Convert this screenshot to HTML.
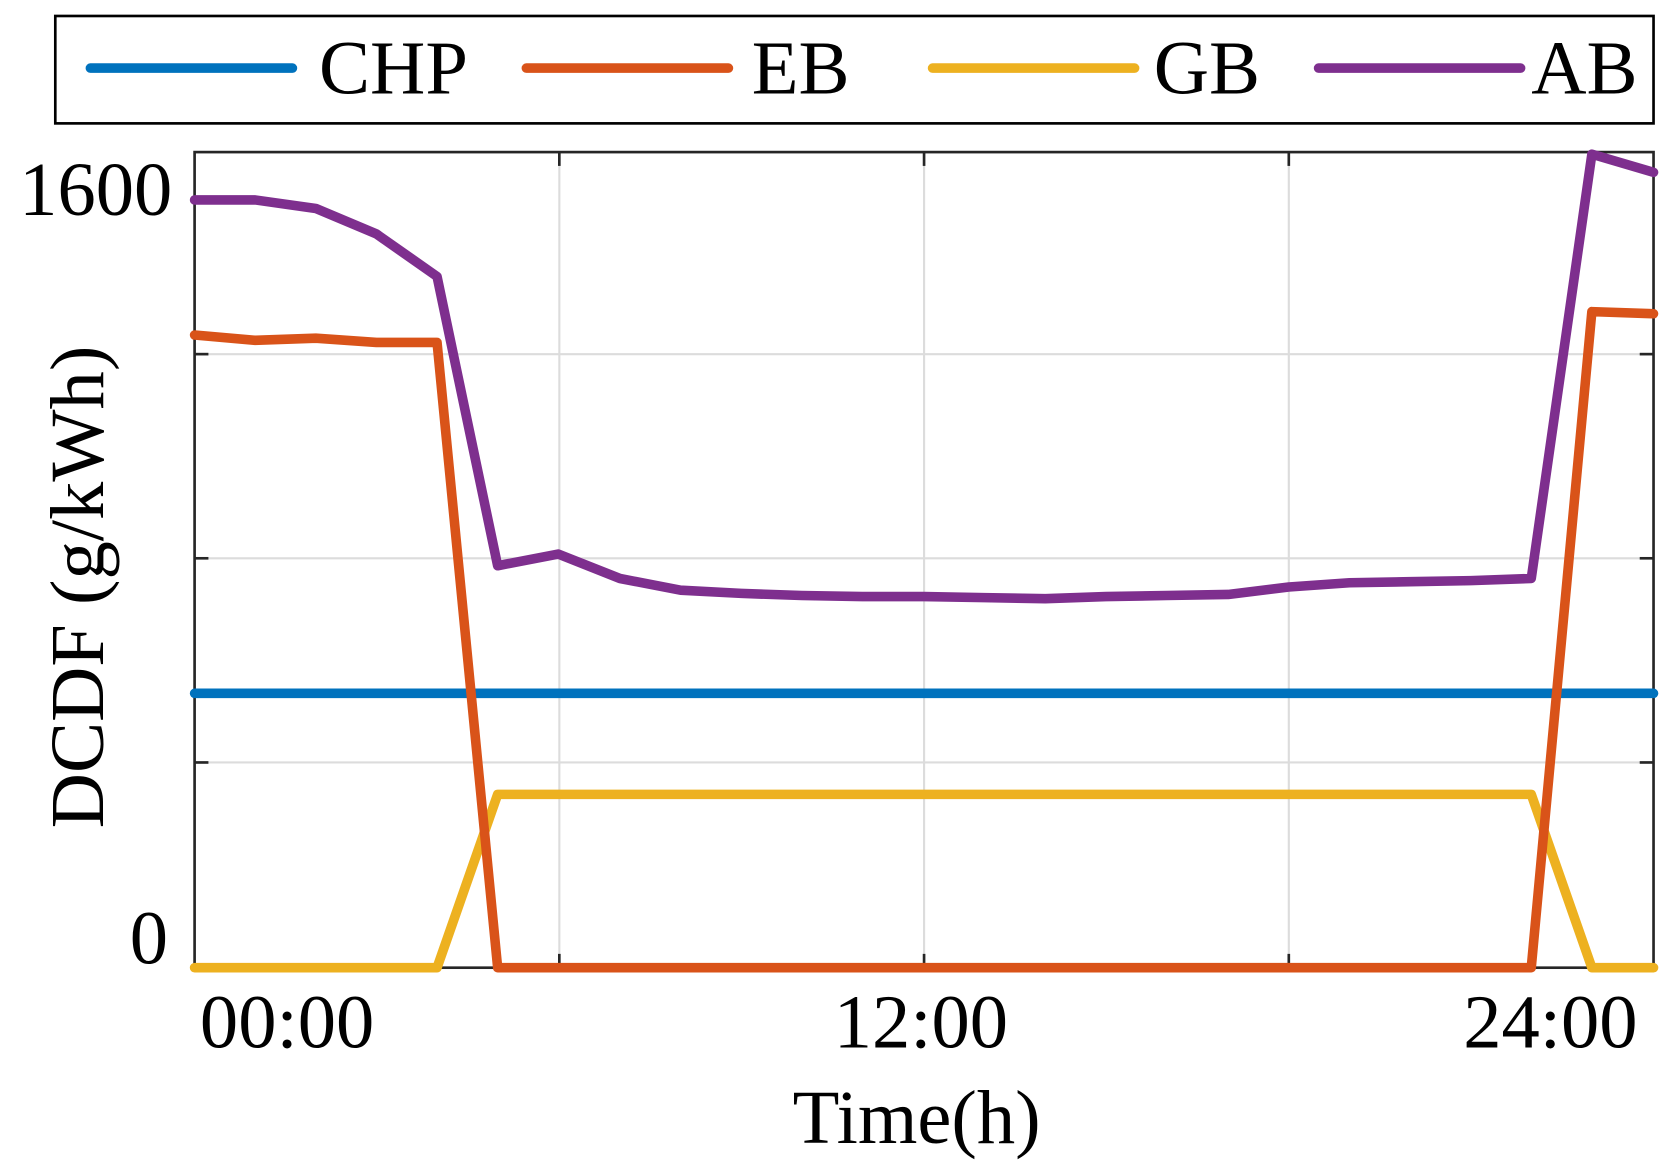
<!DOCTYPE html>
<html><head><style>html,body{margin:0;padding:0;background:#fff}svg{display:block}</style></head>
<body>
<svg width="1668" height="1167" viewBox="0 0 1568.6 1097.4" xmlns="http://www.w3.org/2000/svg" font-family="Liberation Serif, serif">
<rect width="1568.6" height="1097.4" fill="#fff"/>
<g stroke="#dcdcdc" stroke-width="2">
<line x1="526" y1="143" x2="526" y2="910"/><line x1="869" y1="143" x2="869" y2="910"/><line x1="1212" y1="143" x2="1212" y2="910"/>
<line x1="183" y1="333" x2="1555" y2="333"/><line x1="183" y1="525" x2="1555" y2="525"/><line x1="183" y1="717" x2="1555" y2="717"/>
</g>
<g stroke="#262626" stroke-width="2.5">
<line x1="526" y1="910" x2="526" y2="897"/><line x1="869" y1="910" x2="869" y2="897"/><line x1="1212" y1="910" x2="1212" y2="897"/>
<line x1="526" y1="143" x2="526" y2="156"/><line x1="869" y1="143" x2="869" y2="156"/><line x1="1212" y1="143" x2="1212" y2="156"/>
<line x1="183" y1="333" x2="196" y2="333"/><line x1="183" y1="525" x2="196" y2="525"/><line x1="183" y1="717" x2="196" y2="717"/>
<line x1="1555" y1="333" x2="1542" y2="333"/><line x1="1555" y1="525" x2="1542" y2="525"/><line x1="1555" y1="717" x2="1542" y2="717"/>
</g>
<rect x="183" y="143" width="1372" height="767" fill="none" stroke="#262626" stroke-width="2.5"/>
<g fill="none" stroke-width="9" stroke-linejoin="round" stroke-linecap="round">
<polyline stroke="#0072BD" points="183,652 1555,652"/>
<polyline stroke="#EDB120" points="183,910 411,910 468,747 1440,747 1497,910 1555,910"/>
<polyline stroke="#D95319" points="183,315 240,320 297,318 354,322 411,322 468,910 1440,910 1497,293 1555,295"/>
<polyline stroke="#7E2F8E" points="183,188 240,188 297,196 354,220 411,260 468,532 525,521 583,544 640,555 697,558 754,560 811,561 869,561 926,562 983,563 1040,561 1097,560 1155,559 1212,552 1269,548 1326,547 1383,546 1440,544 1497,145 1555,162"/>
</g>
<rect x="52" y="15" width="1503" height="101" fill="#fff" stroke="#000" stroke-width="2.5"/>
<g stroke-width="9" stroke-linecap="round">
<line x1="85" y1="64" x2="275" y2="64" stroke="#0072BD"/>
<line x1="495" y1="64" x2="685" y2="64" stroke="#D95319"/>
<line x1="877" y1="64" x2="1067" y2="64" stroke="#EDB120"/>
<line x1="1240" y1="64" x2="1430" y2="64" stroke="#7E2F8E"/>
</g>
<g font-size="72" fill="#000">
<text x="300" y="88">CHP</text><text x="707" y="88">EB</text><text x="1085" y="88">GB</text><text x="1440" y="88">AB</text>
<text x="162" y="202" text-anchor="end">1600</text>
<text x="158" y="906" text-anchor="end">0</text>
<text x="270" y="985" text-anchor="middle">00:00</text>
<text x="866" y="985" text-anchor="middle">12:00</text>
<text x="1458" y="985" text-anchor="middle">24:00</text>
<text x="862" y="1075" text-anchor="middle">Time(h)</text>
<text transform="translate(97,552) rotate(-90)" text-anchor="middle">DCDF (g/kWh)</text>
</g>
</svg>
</body></html>
